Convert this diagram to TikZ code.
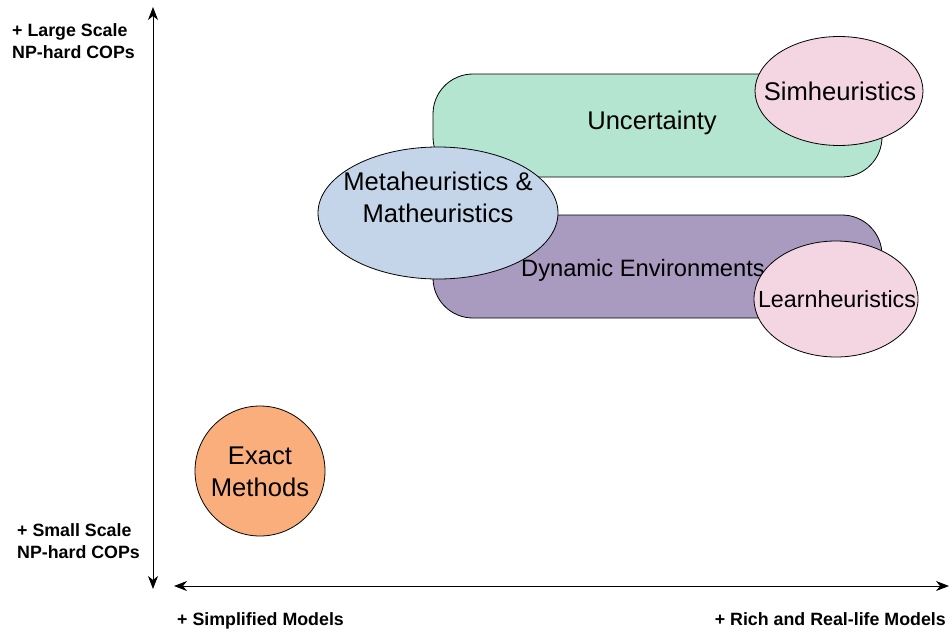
\documentclass[tikz,border=0pt]{standalone}
\usepackage{fontspec}
\setmainfont{Liberation Sans}
\usetikzlibrary{arrows.meta,shapes.geometric}
\definecolor{mint}{HTML}{B3E5D1}
\definecolor{lilac}{HTML}{A99BC0}
\definecolor{paleblue}{HTML}{C4D5EA}
\definecolor{palepink}{HTML}{F4D5E2}
\definecolor{peach}{HTML}{F9AE7C}
\tikzset{
  axis/.style={line width=1pt,{Stealth[length=13pt,width=10pt,inset=4pt]}-{Stealth[length=13pt,width=10pt,inset=4pt]}},
  band/.style={draw=black,line width=0.8pt,rounded corners=40pt},
  blob/.style={ellipse,draw=black,line width=0.8pt,inner sep=0pt},
  bigtext/.style={font=\fontsize{25.6}{31.5}\selectfont,align=center,inner sep=0pt},
  axlabel/.style={font=\fontsize{17.8}{22}\selectfont\bfseries,inner sep=0pt}
}
\begin{document}
\begin{tikzpicture}[x=1pt,y=-1pt]
\useasboundingbox (0,0) rectangle (952,637);
% axes
\coordinate (vtop) at (153,7);
\coordinate (vbot) at (153,589);
\coordinate (hleft) at (174,586);
\coordinate (hright) at (949,586);
\draw[axis] (vbot) -- (vtop);
\draw[axis] (hleft) -- (hright);
% bands
\draw[band,fill=mint] (433,74) rectangle (882,177);
\node[bigtext] (unc) at (652,123) {Uncertainty};
\draw[band,fill=lilac] (433,215) rectangle (882,318);
\node[bigtext,font=\fontsize{23.7}{28}\selectfont] (dyn) at (643,270) {Dynamic Environments};
% ellipses
\node[blob,fill=paleblue,minimum width=240pt,minimum height=132pt] (meta) at (438,213) {};
\node[bigtext] (metat) at (438,197.5) {Metaheuristics \&\\Matheuristics};
\node[blob,fill=palepink,minimum width=168pt,minimum height=109pt] (sim) at (839,91) {};
\node[bigtext] (simt) at (840,91) {Simheuristics};
\node[blob,fill=palepink,minimum width=164pt,minimum height=116pt] (learn) at (836,299) {};
\node[bigtext,font=\fontsize{23.3}{28}\selectfont] (learnt) at (837,299) {Learnheuristics};
\node[blob,circle,fill=peach,minimum size=130pt] (exact) at (260,471) {};
\node[bigtext] (exactt) at (260,472) {Exact\\Methods};
% labels
\node[axlabel,anchor=base west] (ls1) at (12,36.5) {+ Large Scale};
\node[axlabel,anchor=base west] (ls2) at (12,58.5) {NP-hard COPs};
\node[axlabel,anchor=base west] (ss1) at (17,536.5) {+ Small Scale};
\node[axlabel,anchor=base west] (ss2) at (17,558.5) {NP-hard COPs};
\node[axlabel,anchor=base west] (sm) at (177,625.5) {+ Simplified Models};
\node[axlabel,anchor=base east] (rich) at (946,625.5) {+ Rich and Real-life Models};
\end{tikzpicture}
\end{document}
